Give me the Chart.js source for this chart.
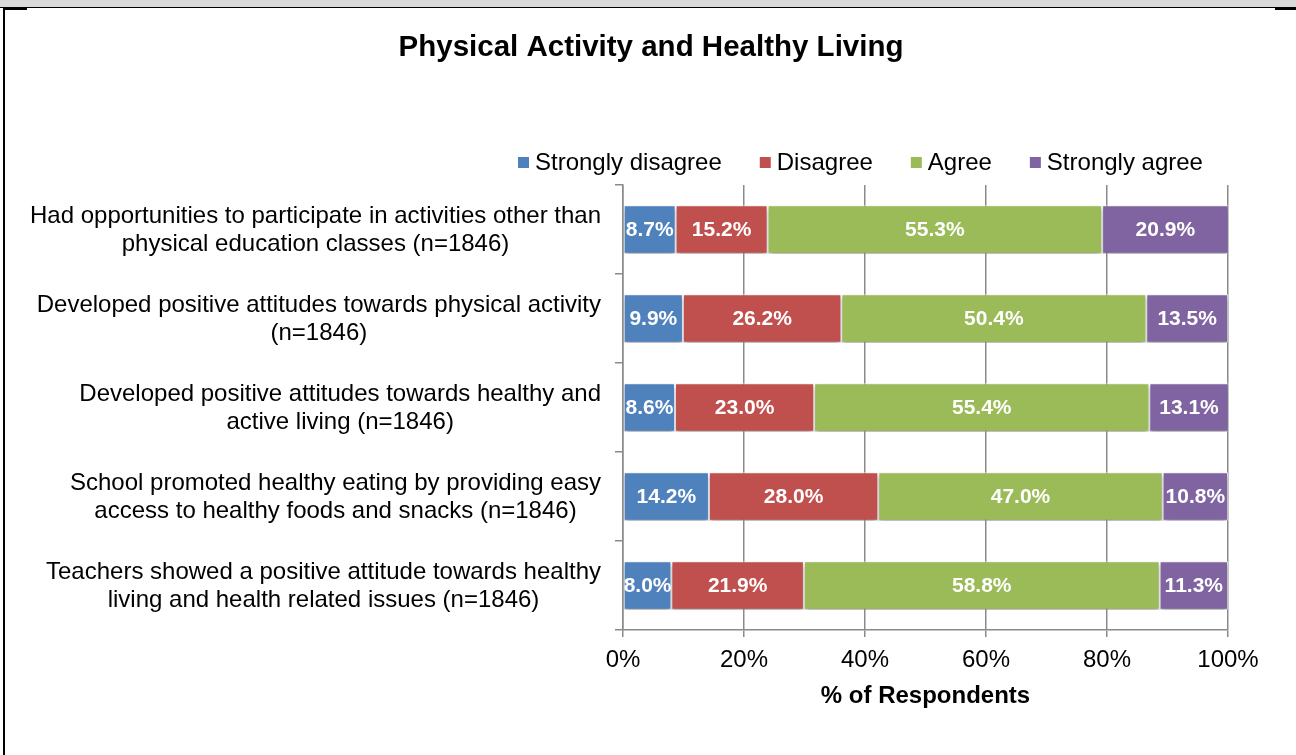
<!DOCTYPE html>
<html><head><meta charset="utf-8">
<script src="https://cdn.jsdelivr.net/npm/chart.js@4.4.1/dist/chart.umd.min.js"></script>
<style>
html,body{margin:0;padding:0;background:#fff;overflow:hidden}
#wrap{position:relative;width:1296px;height:755px}
canvas{position:absolute;left:0;top:0}
.f{position:absolute;background:#000}
</style></head><body>
<div id="wrap">
<canvas id="c" width="1296" height="755"></canvas>
<div style="position:absolute;left:0;top:0;width:1296px;height:7px;background:#d9d9d9"></div>
<div class="f" style="left:0;top:7px;width:1296px;height:1px"></div>
<div class="f" style="left:3px;top:7px;width:2px;height:748px"></div>
<div class="f" style="left:5px;top:8px;width:22px;height:2px"></div>
<div class="f" style="left:1275px;top:8px;width:21px;height:2px"></div>
</div>
<script>
const chartTitle = 'Physical Activity and Healthy Living';
const axisTitle = '% of Respondents';
const categories = [
  ['Had opportunities to participate in activities other than', 'physical education classes (n=1846)'],
  ['Developed positive attitudes towards physical activity', '(n=1846)'],
  ['Developed positive attitudes towards healthy and', 'active living (n=1846)'],
  ['School promoted healthy eating by providing easy', 'access to healthy foods and snacks (n=1846)'],
  ['Teachers showed a positive attitude towards healthy', 'living and health related issues (n=1846)']
];
const seriesNames = ['Strongly disagree', 'Disagree', 'Agree', 'Strongly agree'];
const stronglyDisagree = [8.7, 9.9, 8.6, 14.2, 8.0];
const disagree = [15.2, 26.2, 23.0, 28.0, 21.9];
const agree = [55.3, 50.4, 55.4, 47.0, 58.8];
const stronglyAgree = [20.9, 13.5, 13.1, 10.8, 11.3];
const seriesColors = ['#4F81BD', '#C0504D', '#9BBB59', '#8064A2'];
const xTickValues = [0, 20, 40, 60, 80, 100];

const FONT = '"Liberation Sans", Arial, sans-serif';

const seriesData = [stronglyDisagree, disagree, agree, stronglyAgree];

const decorPlugin = {
  id: 'decor',
  beforeDatasetsDraw(chart) {
    const ctx = chart.ctx;
    ctx.save();
    ctx.shadowColor = 'rgba(0,0,0,0.4)';
    ctx.shadowBlur = 5;
    ctx.shadowOffsetX = 0;
    ctx.shadowOffsetY = 3;
  },
  afterDatasetsDraw(chart) {
    const ctx = chart.ctx;
    ctx.restore();
    ctx.save();
    ctx.font = 'bold 21px ' + FONT;
    ctx.fillStyle = '#fff';
    ctx.textAlign = 'center';
    ctx.textBaseline = 'middle';
    chart.data.datasets.forEach((ds, di) => {
      const meta = chart.getDatasetMeta(di);
      meta.data.forEach((el, i) => {
        const cx = (el.x + el.base) / 2;
        ctx.fillText(ds.data[i].toFixed(1) + '%', cx, el.y + 1);
      });
    });
    ctx.restore();
  },
  afterDraw(chart) {
    const ctx = chart.ctx;
    const yScale = chart.scales.y;
    ctx.save();
    ctx.font = '24px ' + FONT;
    ctx.fillStyle = '#000';
    ctx.textAlign = 'center';
    ctx.textBaseline = 'middle';
    const rightEdge = 601;
    const lh = 27.5;
    categories.forEach((lines, i) => {
      const y = yScale.getPixelForValue(i);
      const maxW = Math.max(...lines.map(l => ctx.measureText(l).width));
      const cx = rightEdge - maxW / 2;
      lines.forEach((l, j) => {
        ctx.fillText(l, cx, y + (j - (lines.length - 1) / 2) * lh + 1);
      });
    });
    ctx.font = 'bold 29.5px ' + FONT;
    ctx.textBaseline = 'alphabetic';
    ctx.fillText(chartTitle, 651, 56);
    ctx.font = '24px ' + FONT;
    ctx.textAlign = 'left';
    ctx.textBaseline = 'middle';
    let x = 518;
    seriesNames.forEach((n, i) => {
      ctx.fillStyle = seriesColors[i];
      ctx.fillRect(x, 157, 11, 11);
      ctx.fillStyle = '#000';
      ctx.fillText(n, x + 17, 163);
      x += 17 + ctx.measureText(n).width + 38;
    });
    ctx.restore();
  }
};

new Chart(document.getElementById('c'), {
  type: 'bar',
  data: {
    labels: categories,
    datasets: seriesNames.map((n, i) => ({
      label: n,
      data: seriesData[i],
      backgroundColor: seriesColors[i],
      borderColor: 'rgba(255,255,255,0.75)',
      borderWidth: 1,
      borderSkipped: false,
      barPercentage: 0.545,
      categoryPercentage: 1
    }))
  },
  options: {
    indexAxis: 'y',
    responsive: false,
    animation: false,
    events: [],
    layout: { padding: { left: 573, right: 68, top: 185, bottom: 0 } },
    plugins: { legend: { display: false }, title: { display: false }, tooltip: { enabled: false } },
    scales: {
      x: {
        stacked: true,
        min: 0, max: 100,
        afterBuildTicks(scale) { scale.ticks = xTickValues.map(v => ({ value: v })); },
        afterFit(scale) { scale.height = 125; },
        grid: { color: '#8a8a8a', lineWidth: 1.5, tickLength: 7, drawTicks: true },
        border: { color: '#8a8a8a', width: 1.5 },
        ticks: { color: '#000', font: { family: FONT, size: 24 }, padding: 9, callback: v => v + '%', maxRotation: 0, autoSkip: false },
        title: { display: true, text: axisTitle, color: '#000', font: { family: FONT, size: 24, weight: 'bold' }, padding: { top: 0, bottom: 44 } }
      },
      y: {
        stacked: true,
        afterFit(scale) { scale.width = 50; },
        grid: { drawOnChartArea: false, drawTicks: true, tickLength: 8, color: '#8a8a8a', lineWidth: 1.5, offset: true },
        border: { color: '#8a8a8a', width: 1.5 },
        ticks: { display: false }
      }
    }
  },
  plugins: [decorPlugin]
});
</script>
</body></html>
